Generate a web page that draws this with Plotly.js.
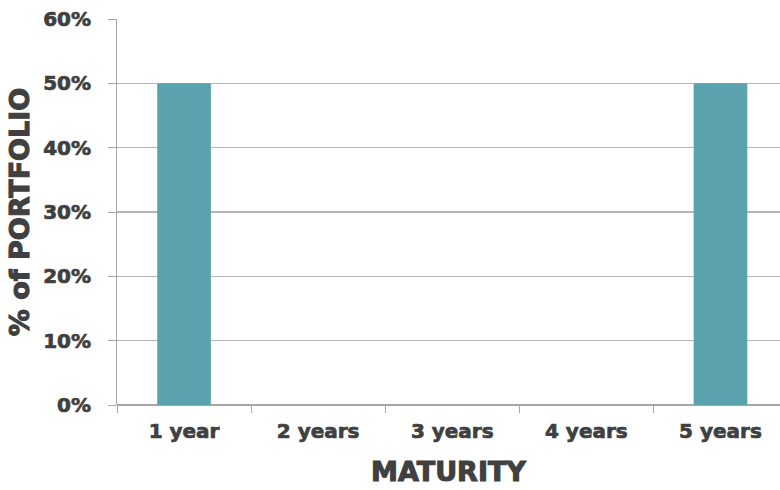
<!DOCTYPE html>
<html>
<head>
<meta charset="utf-8">
<script src="https://cdn.plot.ly/plotly-3.0.1.min.js"></script>
<style>
html,body{margin:0;padding:0;background:#fff;}
#chart{width:780px;height:490px;}
#chart .xtick text, #chart .ytick text { stroke: #404040; stroke-width: 0.7px; paint-order: stroke; }
#chart .xtitle, #chart .ytitle { stroke: #404040; stroke-width: 1.1px; paint-order: stroke; }
</style>
</head>
<body>
<div id="chart"></div>
<script>
var categories = ["1 year", "2 years", "3 years", "4 years", "5 years"];
var shares = [0.5, 0, 0, 0, 0.5];
var yTickValues = [0, 0.1, 0.2, 0.3, 0.4, 0.5, 0.6];

var txt = '#404040';
var fam = 'DejaVu Sans, Arial, sans-serif';

var data = [{
  type: 'bar',
  x: categories,
  y: shares,
  width: 0.4,
  marker: {color: '#5AA3AE', line: {width: 0}},
  hoverinfo: 'x+y'
}];

var layout = {
  width: 780, height: 490,
  margin: {l: 117, r: 0, t: 19, b: 85, pad: 0},
  paper_bgcolor: '#ffffff', plot_bgcolor: '#ffffff',
  showlegend: false,
  xaxis: {
    type: 'category',
    range: [-0.5, 4.444],
    tickson: 'boundaries',
    ticks: 'outside', ticklen: 7, tickwidth: 1, tickcolor: '#a6a6a6',
    showline: false, showgrid: false, zeroline: false,
    tickfont: {family: fam, size: 20, color: txt, weight: 'bold'},
    ticklabelstandoff: 12,
    title: {text: 'MATURITY', font: {family: fam, size: 27, color: txt, weight: 'bold'}, standoff: 20},
    fixedrange: true
  },
  yaxis: {
    range: [0, 0.6],
    tickvals: yTickValues,
    tickformat: '.0%',
    ticks: 'outside', ticklen: 8, tickwidth: 1, tickcolor: '#a6a6a6',
    showline: true, linecolor: '#a6a6a6', linewidth: 1,
    showgrid: true, gridcolor: '#b5b5b5', gridwidth: 1.6,
    zeroline: true, zerolinecolor: '#a6a6a6', zerolinewidth: 1.6,
    tickfont: {family: fam, size: 20, color: txt, weight: 'bold'},
    ticklabelstandoff: 13,
    title: {text: '% of PORTFOLIO', font: {family: fam, size: 27, color: txt, weight: 'bold'}, standoff: 5},
    fixedrange: true
  }
};

Plotly.newPlot('chart', data, layout, {displayModeBar: false, staticPlot: true});
</script>
</body>
</html>
